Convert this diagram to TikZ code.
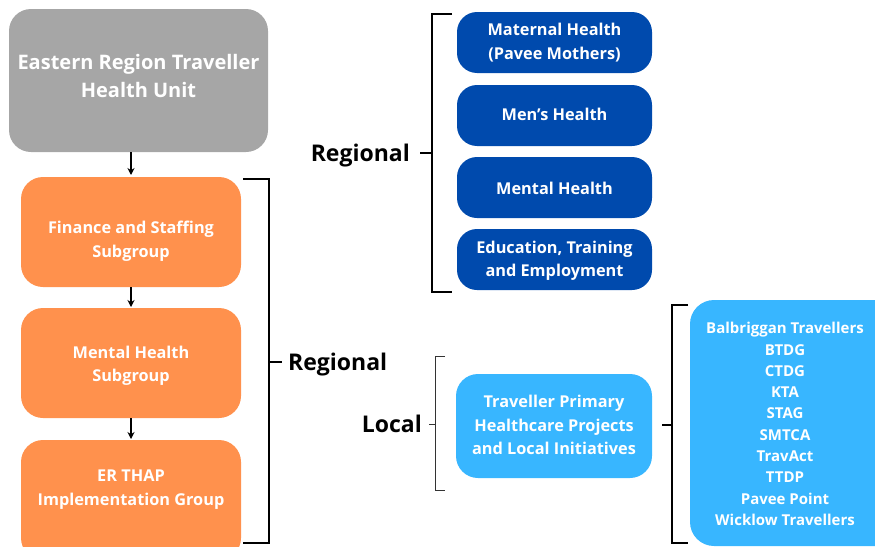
\documentclass[tikz,border=0pt]{standalone}
\usepackage{fontspec}
\setmainfont{Open Sans}
\usetikzlibrary{arrows.meta}
\definecolor{unitgray}{HTML}{A6A6A6}
\definecolor{suborange}{HTML}{FF914D}
\definecolor{navy}{HTML}{004AAD}
\definecolor{sky}{HTML}{38B6FF}
\tikzset{
  box/.style={draw=none, text=white, align=center, font=\bfseries\fontsize{16.3}{23.5}\selectfont},
  flow/.style={-{Stealth[length=7pt,width=7pt]}, line width=1.8pt},
  brace/.style={line width=2.2pt, black},
  thinbrace/.style={line width=1pt, black!80},
  level/.style={font=\bfseries\fontsize{23}{26}\selectfont, text=black, inner sep=0pt},
}
\begin{document}
\begin{tikzpicture}[x=1pt,y=-1pt]
\useasboundingbox (0,0) rectangle (875,546);
% governing unit and its subgroups
\fill[unitgray, rounded corners=22pt] (9,9) rectangle (268,152);
\node[text=white, align=center, font=\bfseries\fontsize{20}{28}\selectfont] (unit) at (138.5,76) {Eastern Region Traveller\\Health Unit};
\fill[suborange, rounded corners=22pt] (21,177) rectangle (241,287);
\node[box] (fin) at (131,241) {Finance and Staffing\\Subgroup};
\fill[suborange, rounded corners=22pt] (21,308) rectangle (241,418);
\node[box] (mh) at (131,366) {Mental Health\\Subgroup};
\fill[suborange, rounded corners=22pt] (21,440) rectangle (241,560);
\node[box] (er) at (131,489.5) {ER THAP\\Implementation Group};
\draw[flow] (131,152) -- (131,175);
\draw[flow] (131,287) -- (131,307);
\draw[flow] (131,418) -- (131,439);
% bracket grouping the subgroups
\draw[brace] (243,179) -- (269,179) -- (269,543) -- (243,543);
\draw[brace] (269,362) -- (282,362);
\node[level, anchor=base west] (reg1) at (288,370) {Regional};
% regional programmes
\node[level, anchor=base east] (reg2) at (410,161) {Regional};
\draw[brace, line width=1.8pt] (452,14) -- (432,14) -- (432,292) -- (452,292);
\draw[brace, line width=1.8pt] (420,153) -- (432,153);
\fill[navy, rounded corners=20pt] (457,12) rectangle (652,73);
\node[box] (mat) at (554.5,42.5) {Maternal Health\\(Pavee Mothers)};
\fill[navy, rounded corners=20pt] (457,85) rectangle (652,146);
\node[box] (men) at (554.5,114) {Men’s Health};
\fill[navy, rounded corners=20pt] (457,157) rectangle (652,218);
\node[box] (ment) at (554.5,188) {Mental Health};
\fill[navy, rounded corners=20pt] (457,229) rectangle (652,290);
\node[box] (edu) at (554.5,261) {Education, Training\\and Employment};
% local level
\node[level, anchor=base east] (loc) at (422,432) {Local};
\draw[thinbrace] (445,356) -- (435,356) -- (435,490) -- (445,490);
\draw[thinbrace] (429,424) -- (435,424);
\fill[sky, rounded corners=22pt] (456,374) rectangle (652,478);
\node[box] (tph) at (554,425) {Traveller Primary\\Healthcare Projects\\and Local Initiatives};
\draw[brace, line width=1.8pt] (662,425) -- (672,425);
\draw[brace, line width=1.8pt] (688,305) -- (672,305) -- (672,543) -- (688,543);
\fill[sky, rounded corners=24pt] (690,300) rectangle (900,546);
\node[box, font=\bfseries\fontsize{15}{21.3}\selectfont] (groups) at (785,424) {Balbriggan Travellers\\BTDG\\CTDG\\KTA\\STAG\\SMTCA\\TravAct\\TTDP\\Pavee Point\\Wicklow Travellers};
\end{tikzpicture}
\end{document}
